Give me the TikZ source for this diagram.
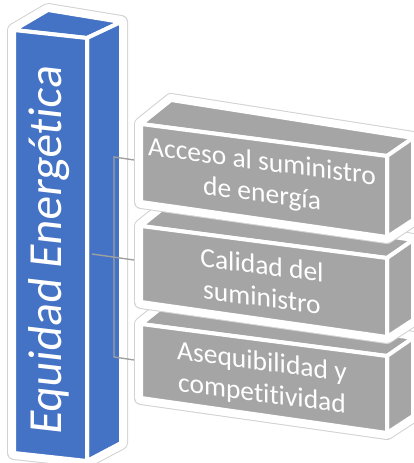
\documentclass[tikz,border=0pt]{standalone}
\usepackage{fontspec}
\setmainfont[Ligatures={NoCommon,NoContextual},RawFeature=-calt]{Carlito}
\definecolor{blueF}{HTML}{4472C4}
\definecolor{grayF}{HTML}{A5A5A5}
\definecolor{glow}{HTML}{D2D2D2}
\definecolor{connC}{HTML}{A0A0A0}
\newcommand\gcube[2]{%
  \path[halo] (141,#1) -- (171,{#1-24}) -- (413,{#1+14}) -- (413,{#2+18}) -- (387,{#2+35}) -- (141,#2) -- cycle;
  \path[haloin] (141,#1) -- (171,{#1-24}) -- (413,{#1+14}) -- (413,{#2+18}) -- (387,{#2+35}) -- (141,#2) -- cycle;
  \path[face,fill=grayF] (141,#1) -- (171,{#1-24}) -- (413,{#1+14}) -- (387,{#1+32}) -- cycle;
  \path[face,fill=grayF] (387,{#1+32}) -- (413,{#1+14}) -- (413,{#2+18}) -- (387,{#2+35}) -- cycle;
  \path[face,fill=grayF] (141,#1) -- (387,{#1+32}) -- (387,{#2+35}) -- (141,#2) -- cycle;
}
\begin{document}
\begin{tikzpicture}[x=1pt,y=-1pt,
  face/.style={draw=white,line width=4pt,line join=round},
  halo/.style={draw=glow,line width=14pt,line join=round,fill=white},
  haloin/.style={draw=white,line width=12pt,line join=round},
  conn/.style={draw=connC,line width=1.4pt},
  boxtext/.style={text=white,font=\fontsize{27.5}{32}\selectfont,align=center,yslant=-0.13,inner sep=0pt},
  bigtext/.style={text=white,font=\fontsize{47.5}{56}\selectfont,rotate=90,xslant=0.115,inner sep=0pt}]
\useasboundingbox (0,0) rectangle (414,463);
\clip (0,0) rectangle (414,463);
% blue column
\path[halo] (14,30) -- (48,10) -- (121,22) -- (121,443) -- (87,461) -- (14,453) -- cycle;
\path[haloin] (14,30) -- (48,10) -- (121,22) -- (121,443) -- (87,461) -- (14,453) -- cycle;
\path[face,fill=blueF] (14,30) -- (48,10) -- (121,22) -- (87,38) -- cycle;
\path[face,fill=blueF] (87,38) -- (121,22) -- (121,443) -- (87,461) -- cycle;
\path[face,fill=blueF] (14,30) -- (87,38) -- (87,461) -- (14,453) -- cycle;
% connectors
\coordinate (hub) at (92,254);
\coordinate (jt) at (114,157);
\coordinate (jb) at (114,357);
\coordinate (e1) at (141,161);
\coordinate (e2) at (141,261);
\coordinate (e3) at (141,361);
\draw[conn] (hub) -- (e2);
\draw[conn] (e1) -- (jt) -- (jb) -- (e3);
% gray boxes
\gcube{324}{398}
\gcube{226}{302}
\gcube{124}{202}
% texts
\node[bigtext] (t0) at (49,250) {Equidad Energética};
\node[boxtext] (t1) at (262,179) {Acceso al suministro\\de energía};
\node[boxtext] (t2) at (262,281) {Calidad del\\suministro};
\node[boxtext] (t3) at (262,379) {Asequibilidad y\\competitividad};
\end{tikzpicture}
\end{document}
